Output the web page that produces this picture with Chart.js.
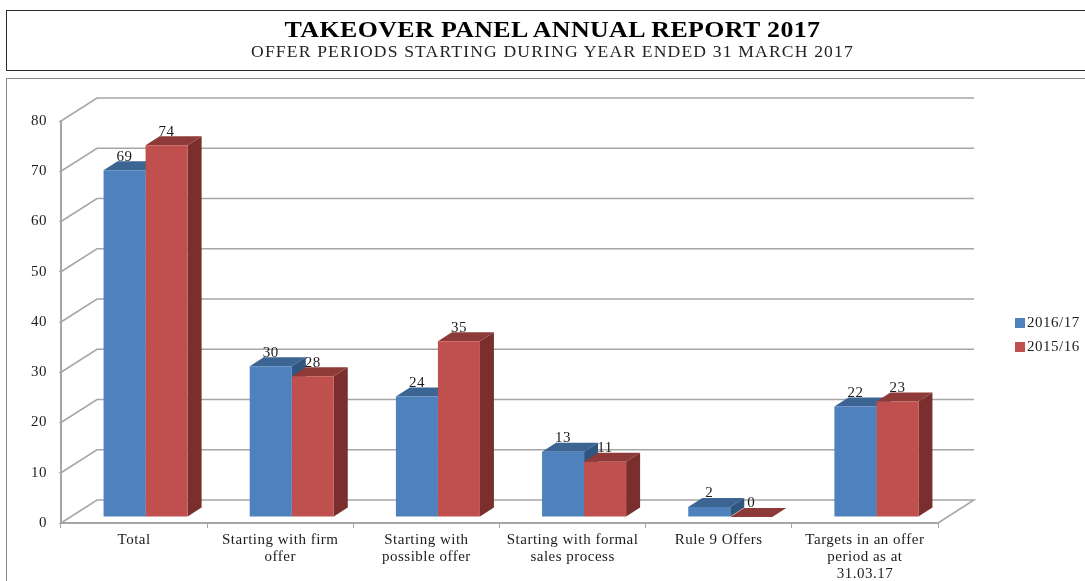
<!DOCTYPE html>
<html>
<head>
<meta charset="utf-8">
<title>Takeover Panel Annual Report 2017</title>
<script src="https://cdn.jsdelivr.net/npm/chart.js@4"></script>
<style>
  body { margin: 0; background: #fff; font-family: "Liberation Serif", serif; }
  #wrap { position: relative; width: 1085px; height: 581px; overflow: hidden; }
  #my_Chart { position: absolute; left: 0; top: 0; }
  #head { position: absolute; left: 6px; top: 10px; width: 1085px; height: 59px; border: 1px solid #2a2a2a; color: #000; }
  #head div { position: absolute; left: 0; width: 1091px; text-align: center; white-space: nowrap; }
  #head .t1 { top: 6px; font-size: 24px; font-weight: bold; line-height: 24px; letter-spacing: 0.35px; transform: scaleX(1.08); }
  #head .t2 { top: 32px; font-size: 16px; line-height: 18px; letter-spacing: 1.05px; transform: scaleX(1.1); color: #222; }
  #frame { position: absolute; left: 6px; top: 78px; width: 1085px; height: 510px; border: 1px solid #8c8c8c; }
</style>
</head>
<body>
<div id="wrap">
  <div id="frame"></div>
  <canvas id="my_Chart" width="1085" height="581"></canvas>
  <div id="head">
    <div class="t1">TAKEOVER PANEL ANNUAL REPORT 2017</div>
    <div class="t2">OFFER PERIODS STARTING DURING YEAR ENDED 31 MARCH 2017</div>
  </div>
</div>
<script>
// Data for the chart
var categories = ["Total", ["Starting with firm", "offer"], ["Starting with", "possible offer"], ["Starting with formal", "sales process"], "Rule 9 Offers", ["Targets in an offer", "period as at", "31.03.17"]];
var seriesNames = ["2016/17", "2015/16"];
var values2016 = [69, 30, 24, 13, 2, 22];
var values2015 = [74, 28, 35, 11, 0, 23];
var yTicks = [0, 10, 20, 30, 40, 50, 60, 70, 80];

// Look of the fake 3D box
var wallDepth = { x: 36, y: -23 };
var barShift = { x: 11.5, y: -6 };
var barDepth = { x: 14, y: -9 };
var frontColors = ["#4f81bd", "#c0504d"];
var topColors = ["#3c6594", "#8e3a38"];
var sideColors = ["#2f5580", "#7a2f2e"];
var gridColor = "#a6a6a6";
var textColor = "#1c1c1c";
var labelFont = '15px "Liberation Serif"';

function poly(ctx, pts, color) {
    ctx.fillStyle = color;
    ctx.beginPath();
    ctx.moveTo(pts[0][0], pts[0][1]);
    for (var i = 1; i < pts.length; i++) ctx.lineTo(pts[i][0], pts[i][1]);
    ctx.closePath();
    ctx.fill();
}

// Back wall lines, then top and side of each bar. The fronts are the real bars.
var box3d = {
    id: "box3d",
    beforeDraw: function (chart) {
        // the reference text runs a bit wide
        chart.ctx.letterSpacing = "0.5px";
    },
    beforeDatasetsDraw: function (chart) {
        var ctx = chart.ctx, y = chart.scales.y, a = chart.chartArea;
        ctx.save();
        ctx.strokeStyle = gridColor;
        ctx.lineWidth = 1.5;
        yTicks.forEach(function (t) {
            var py = y.getPixelForValue(t);
            ctx.beginPath();
            ctx.moveTo(a.left, py);
            ctx.lineTo(a.left + wallDepth.x, py + wallDepth.y);
            ctx.lineTo(a.right + wallDepth.x, py + wallDepth.y);
            if (t === 0) ctx.lineTo(a.right, py);
            ctx.stroke();
        });
        [0, 1].forEach(function (d) {
            chart.getDatasetMeta(d).data.forEach(function (bar) {
                var l = bar.x - bar.width / 2 + barShift.x, r = bar.x + bar.width / 2 + barShift.x;
                var t = bar.y + barShift.y, b = bar.base + barShift.y;
                poly(ctx, [[l, t], [r, t], [r + barDepth.x, t + barDepth.y], [l + barDepth.x, t + barDepth.y]], topColors[d]);
                poly(ctx, [[r, t], [r + barDepth.x, t + barDepth.y], [r + barDepth.x, b + barDepth.y], [r, b]], sideColors[d]);
            });
        });
        ctx.translate(barShift.x, barShift.y);
    },
    afterDatasetsDraw: function (chart) {
        var ctx = chart.ctx;
        ctx.restore();
        // value labels
        ctx.save();
        ctx.font = labelFont;
        ctx.fillStyle = textColor;
        ctx.textAlign = "center";
        ctx.textBaseline = "middle";
        [0, 1].forEach(function (d) {
            chart.getDatasetMeta(d).data.forEach(function (bar, i) {
                var v = chart.data.datasets[d].data[i];
                ctx.fillText(v, bar.x + barShift.x, bar.y + barShift.y - 13.5);
            });
        });
        // legend
        ctx.textAlign = "left";
        seriesNames.forEach(function (name, d) {
            var py = 323 + d * 24;
            ctx.fillStyle = frontColors[d];
            ctx.fillRect(1015, py - 5, 10, 10);
            ctx.fillStyle = textColor;
            ctx.fillText(name, 1027, py);
        });
        ctx.restore();
    }
};

var ctx = document.getElementById("my_Chart").getContext("2d");
var myChart = new Chart(ctx, {
    type: "bar",
    data: {
        labels: categories,
        datasets: [
            { label: seriesNames[0], data: values2016, backgroundColor: frontColors[0], clip: false },
            { label: seriesNames[1], data: values2015, backgroundColor: frontColors[1], clip: false }
        ]
    },
    options: {
        responsive: false,
        animation: false,
        layout: { padding: { top: 121, right: 147 } },
        datasets: { bar: { barPercentage: 1, categoryPercentage: 0.575 } },
        plugins: { legend: { display: false }, title: { display: false }, tooltip: { enabled: false } },
        scales: {
            x: {
                afterFit: function (s) { s.height = 58; },
                grid: { drawOnChartArea: false, color: gridColor, tickLength: 5 },
                border: { color: gridColor, width: 2 },
                ticks: { autoSkip: false, maxRotation: 0, padding: 4, color: textColor, font: { family: "Liberation Serif", size: 15, lineHeight: 1.13 } }
            },
            y: {
                min: 0,
                max: 80,
                afterFit: function (s) { s.width = 61; },
                afterBuildTicks: function (s) { s.ticks = yTicks.map(function (v) { return { value: v }; }); },
                grid: { drawOnChartArea: false, color: gridColor, tickLength: 2 },
                border: { color: gridColor, width: 2 },
                ticks: { padding: 12, color: textColor, font: { family: "Liberation Serif", size: 15 } }
            }
        }
    },
    plugins: [box3d]
});
</script>
</body>
</html>
